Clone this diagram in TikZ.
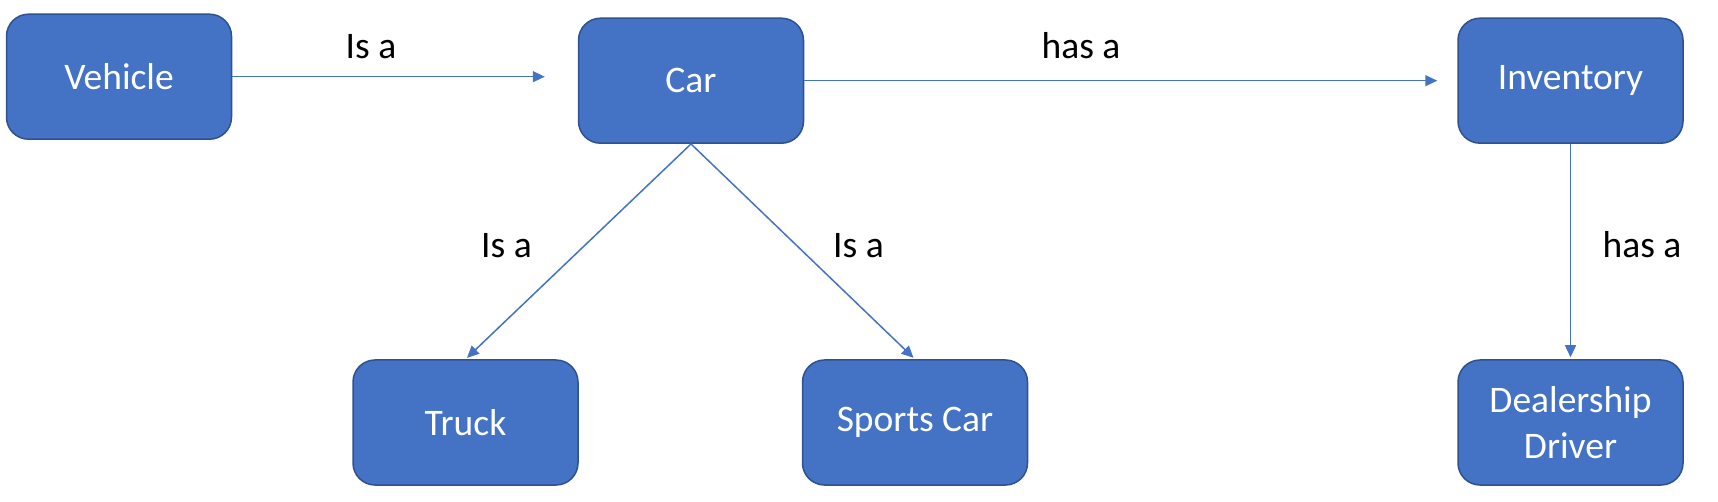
\documentclass[tikz,border=0pt]{standalone}
\usepackage{fontspec}
\setmainfont{Carlito}
\usetikzlibrary{arrows.meta}
\definecolor{boxfill}{HTML}{4472C4}
\definecolor{boxline}{HTML}{2F528F}
\definecolor{arrowcol}{HTML}{4472C4}
\begin{document}
\begin{tikzpicture}[x=1pt,y=-1pt,
  entity/.style={draw=boxline,line width=1.5pt,fill=boxfill,rounded corners=22pt,
    minimum width=225pt,minimum height=125pt,inner sep=0pt,text=white,align=center,
    font=\fontsize{37.5}{46.5}\selectfont},
  rel/.style={draw=arrowcol,line width=1.5pt,-{Triangle[length=12pt,width=11pt]}},
  lbl/.style={font=\fontsize{37.5}{46.5}\selectfont,text=black,inner sep=0pt}]
\useasboundingbox (0,0) rectangle (1718,502);
\node[entity] (vehicle) at (119,76.7) {Vehicle};
\node[entity] (car) at (691,80.7) {Car};
\node[entity] (inv) at (1570.5,80.7) {Inventory};
\node[entity] (truck) at (465.5,422.5) {Truck};
\node[entity] (sports) at (915,422.5) {Sports Car};
\node[entity] (dealer) at (1570.5,422.5) {Dealership\\Driver};
\draw[rel,shorten >=33pt] (vehicle.east) -- (vehicle.east -| car.west);
\draw[rel,shorten >=20pt] (car.east) -- (inv.west);
\draw[rel,shorten >=2pt] (car.south) -- (truck.north);
\draw[rel,shorten >=2pt] (car.south) -- (sports.north);
\draw[rel,shorten >=2pt] (inv.south) -- (dealer.north);
\node[lbl] (l1) at (371,46.5) {Is a};
\node[lbl] (l2) at (1081,46) {has a};
\node[lbl] (l3) at (506.5,245.5) {Is a};
\node[lbl] (l4) at (858.5,245.5) {Is a};
\node[lbl] (l5) at (1642,245) {has a};
\end{tikzpicture}
\end{document}
